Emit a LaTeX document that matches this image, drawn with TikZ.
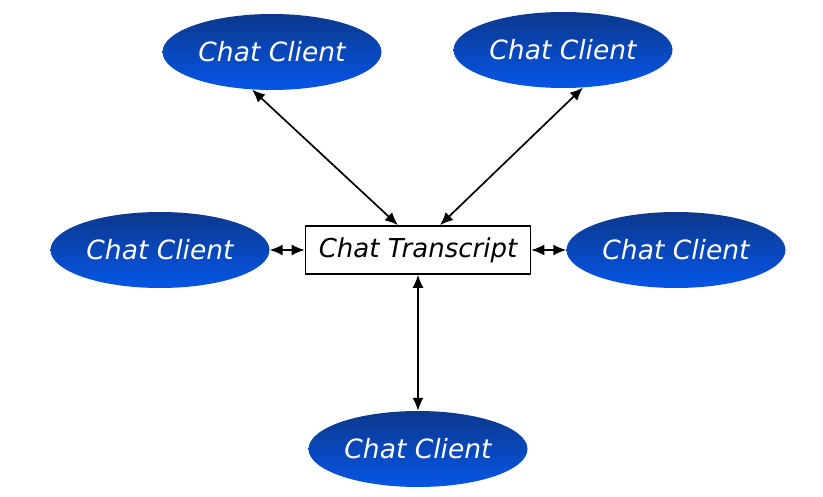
\documentclass[tikz,border=0pt]{standalone}
\usepackage{fontspec}
\setmainfont{DejaVu Sans}
\usetikzlibrary{shapes.geometric,arrows.meta}
\definecolor{cltop}{RGB}{12,56,140}
\definecolor{clbot}{RGB}{5,86,232}
\tikzset{
  client/.style={ellipse, minimum width=219pt, minimum height=76pt, inner sep=0pt,
    top color=cltop, bottom color=clbot, draw=none, text=white,
    font=\fontsize{26.5}{30}\selectfont\itshape},
  transcript/.style={rectangle, draw=black, line width=1.6pt, fill=white,
    minimum width=225pt, minimum height=48pt, inner sep=0pt,
    font=\fontsize{26}{30}\selectfont\itshape},
  link/.style={line width=1.7pt, {Latex[length=13pt,width=11pt]}-{Latex[length=13pt,width=11pt]}}
}
\begin{document}
\begin{tikzpicture}[x=1pt,y=-1pt]
\useasboundingbox (0,0) rectangle (823,497);
\node[client] (tl) at (272,52) {Chat Client};
\node[client] (tr) at (563,50) {Chat Client};
\node[client] (l) at (160,250) {Chat Client};
\node[client] (r) at (676,250) {Chat Client};
\node[client] (b) at (418,449) {Chat Client};
\node[transcript] (t) at (418,250) {Chat Transcript};
\draw[link] (tl.242) -- ([xshift=-20pt]t.north);
\draw[link] (tr.298) -- ([xshift=22pt]t.north);
\draw[link] (l.east) -- (t.west);
\draw[link] (t.east) -- (r.west);
\draw[link] (t.south) -- (b.north);
\end{tikzpicture}
\end{document}
